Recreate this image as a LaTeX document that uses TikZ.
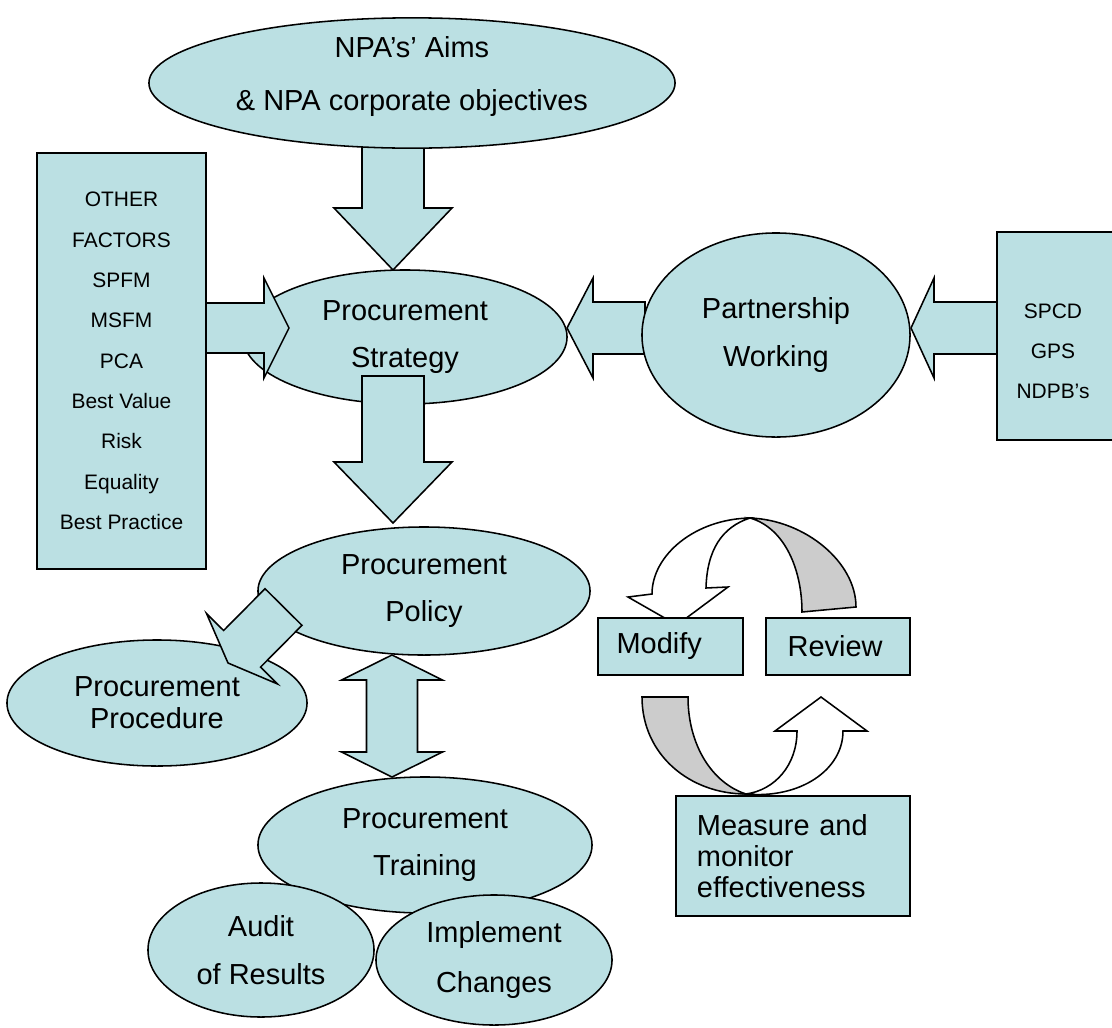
\documentclass[tikz,border=0pt]{standalone}
\usepackage{fontspec}
\setmainfont{Liberation Sans}
\usetikzlibrary{shapes.geometric,calc}

\definecolor{paleblue}{RGB}{187,224,227}
\definecolor{backgrey}{RGB}{204,204,204}

\newcommand{\pxu}{0.025cm}
\newcommand{\bigfont}{\fontsize{20.6pt}{34pt}\selectfont}
\newcommand{\smallfont}{\fontsize{14.9pt}{28.7pt}\selectfont}

% block arrow: tail, tip, shaft half width, head half width, head length
\newcommand{\blockarrow}[5]{%
  \coordinate (bt) at #1;
  \coordinate (bh) at #2;
  \coordinate (bb) at ($(bh)!#5*\pxu!(bt)$);
  \draw[blockfill] ($(bt)!#3*\pxu!90:(bh)$) -- ($(bb)!#3*\pxu!-90:(bt)$)
    -- ($(bb)!#4*\pxu!-90:(bt)$) -- (bh) -- ($(bb)!#4*\pxu!90:(bt)$)
    -- ($(bb)!#3*\pxu!90:(bt)$) -- ($(bt)!#3*\pxu!-90:(bh)$) -- cycle;}

% two headed block arrow: tip, tip, shaft half width, head half width, head length
\newcommand{\twinarrow}[5]{%
  \coordinate (da) at #1;
  \coordinate (db) at #2;
  \coordinate (dA) at ($(da)!#5*\pxu!(db)$);
  \coordinate (dB) at ($(db)!#5*\pxu!(da)$);
  \draw[blockfill] (da) -- ($(dA)!#4*\pxu!90:(db)$) -- ($(dA)!#3*\pxu!90:(db)$)
    -- ($(dB)!#3*\pxu!-90:(da)$) -- ($(dB)!#4*\pxu!-90:(da)$) -- (db)
    -- ($(dB)!#4*\pxu!90:(da)$) -- ($(dB)!#3*\pxu!90:(da)$)
    -- ($(dA)!#3*\pxu!-90:(db)$) -- ($(dA)!#4*\pxu!-90:(db)$) -- cycle;}

\begin{document}
\begin{tikzpicture}[
        x=0.025cm, y=-0.025cm,
        bubble/.style={ellipse, draw, fill=paleblue, line width=1.1pt, inner sep=0pt, align=center, font=\bigfont},
        panel/.style={rectangle, draw, fill=paleblue, line width=1.1pt, inner sep=0pt, align=center, font=\bigfont},
        blockfill/.style={draw, fill=paleblue, line width=1.1pt, line join=miter},
        ribbon/.style={draw, fill=white, line width=1.1pt, line join=miter}
    ]
        \useasboundingbox (0,0) rectangle (1112,1027);
        \clip (0,0) rectangle (1112,1027);

        \blockarrow{(393,142)}{(393,270)}{31}{59}{62}
        \node[bubble, minimum width=13.15cm, minimum height=3.25cm, font=\fontsize{20.6pt}{37.6pt}\selectfont] (aims) at (412,83) {NPA’s’ Aims\\\& NPA corporate objectives\rule[-13pt]{0pt}{0pt}};

        \node[bubble, minimum width=8.1cm, minimum height=3.35cm] (strategy) at (405,337) {Procurement\\Strategy};

        \node[panel, minimum width=4.225cm, minimum height=10.4cm, font=\smallfont] (factors) at (121.5,361) {OTHER\\FACTORS\\SPFM\\MSFM\\PCA\\Best Value\\Risk\\Equality\\Best Practice};
        \blockarrow{(206,328)}{(289,328)}{25}{50}{25}

        \blockarrow{(645,328)}{(567,328)}{26}{50}{26}
        \node[bubble, minimum width=6.7cm, minimum height=5.1cm] (partner) at (776,335) {Partnership\\Working};
        \blockarrow{(997,328)}{(911,328)}{26}{50}{23}

        \node[panel, minimum width=2.9cm, minimum height=5.2cm] (bodies) at (1055,336) {};
        \node[align=center, font=\fontsize{14.9pt}{28.3pt}\selectfont] (bodylist) at (1053,351) {SPCD\\GPS\\NDPB’s};

        \node[bubble, minimum width=8.3cm, minimum height=3.2cm] (policy) at (424,591) {Procurement\\Policy};
        \blockarrow{(393,376)}{(393,523)}{31}{59}{61}

        \node[bubble, minimum width=7.5cm, minimum height=3.15cm, font=\fontsize{20.6pt}{22.7pt}\selectfont] (procedure) at (157,703) {Procurement\\Procedure};
        \blockarrow{(283.5,607)}{(228,663)}{26}{50}{20}

        \node[bubble, minimum width=8.35cm, minimum height=3.4cm] (training) at (425,845) {Procurement\\Training};
        \twinarrow{(392,655)}{(392,777)}{25.5}{50.5}{25}

        \node[bubble, minimum width=5.65cm, minimum height=3.35cm] (audit) at (261,950) {Audit\\of Results};
        \node[bubble, minimum width=5.9cm, minimum height=3.25cm, font=\fontsize{20.6pt}{35.4pt}\selectfont] (implement) at (494,960) {Implement\\Changes};

        \draw[ribbon, fill=backgrey] (802,612) -- (856,607) .. controls (856,562) and (805,520) .. (750,518) .. controls (785,528) and (802,570) .. (802,612) -- cycle;
        \draw[ribbon] (750,518) .. controls (695,519) and (652,555) .. (652,594) -- (628,597) -- (677,625) -- (728,587) -- (706,588) .. controls (707,550) and (722,527) .. (750,518) -- cycle;

        \draw[ribbon, fill=backgrey] (642,697) -- (688,697) .. controls (688,745) and (712,783) .. (746,794) .. controls (690,794) and (642,755) .. (642,697) -- cycle;
        \draw[ribbon] (746,794) .. controls (800,799) and (843,770) .. (843,731) -- (867,731) -- (821,697) -- (775,731) -- (797,731) .. controls (797,765) and (775,790) .. (746,794) -- cycle;

        \node[panel, minimum width=3.625cm, minimum height=1.425cm] (modify) at (670.5,646.5) {Modify\hspace{16pt}};
        \node[panel, minimum width=3.6cm, minimum height=1.425cm] (review) at (838,646.5) {Review\hspace{4pt}};
        \node[panel, minimum width=5.85cm, minimum height=3cm, align=left, text width=4.8cm, font=\fontsize{20.6pt}{22pt}\selectfont] (measure) at (793,856) {Measure and\\monitor\\effectiveness};
    \end{tikzpicture}
\end{document}
